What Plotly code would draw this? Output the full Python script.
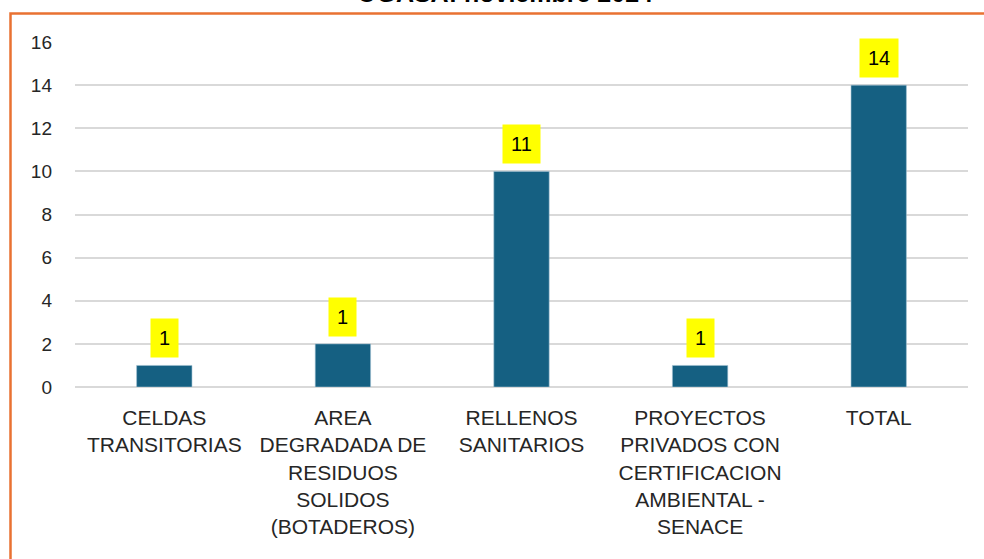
import plotly.graph_objects as go

categories = [
    "CELDAS<br>TRANSITORIAS",
    "AREA<br>DEGRADADA DE<br>RESIDUOS<br>SOLIDOS<br>(BOTADEROS)",
    "RELLENOS<br>SANITARIOS",
    "PROYECTOS<br>PRIVADOS CON<br>CERTIFICACION<br>AMBIENTAL -<br>SENACE",
    "TOTAL",
]
bar_values = [1, 2, 10, 1, 14]
label_values = ["1", "1", "11", "1", "14"]
y_ticks = [0, 2, 4, 6, 8, 10, 12, 14, 16]
title_text = "OGASA: noviembre 2024"

FONT = "Liberation Sans, Arial, sans-serif"
W, H = 984, 559
ML, MR, MT, MB = 75, 16, 42, 172
PW = W - ML - MR
PH = H - MT - MB

fig = go.Figure()
fig.add_trace(go.Bar(
    x=categories,
    y=bar_values,
    marker=dict(color="#156082", line=dict(color="#9FC0D2", width=0.6)),
    hoverinfo="skip",
))

for c, v, lab in zip(categories, bar_values, label_values):
    fig.add_annotation(
        x=c, y=v, xref="x", yref="y",
        text=lab, showarrow=False,
        yanchor="bottom", yshift=7,
        bgcolor="#FFFF00", borderpad=8,
        font=dict(family=FONT, size=20, color="#000000"),
    )

def px_x(px):
    return (px - ML) / PW

def px_y(py):
    return (H - MB - py) / PH

# orange outer frame (partly outside the visible page)
fig.add_shape(
    type="rect", xref="paper", yref="paper",
    x0=px_x(10.5), y0=px_y(13.5), x1=px_x(1100), y1=px_y(800),
    line=dict(color="#E97132", width=2.5), fillcolor="rgba(0,0,0,0)",
    layer="below",
)

# clipped title
fig.add_annotation(
    xref="paper", yref="paper",
    x=px_x(505), y=px_y(9),
    text="<b>" + title_text + "</b>", showarrow=False,
    xanchor="center", yanchor="bottom",
    font=dict(family=FONT, size=25, color="#000000"),
)

fig.update_layout(
    width=W, height=H,
    margin=dict(l=ML, r=MR, t=MT, b=MB, pad=0),
    paper_bgcolor="white",
    plot_bgcolor="white",
    showlegend=False,
    bargap=0.69,
    font=dict(family=FONT, color="#262626"),
)
fig.update_xaxes(
    showgrid=False, showline=False, ticks="",
    tickfont=dict(family=FONT, size=21, color="#262626"),
    tickangle=0, ticklabelstandoff=16,
)
fig.update_yaxes(
    range=[0, 16], tickvals=y_ticks, ticktext=[str(t) for t in y_ticks],
    showgrid=True, gridcolor="#D9D9D9", gridwidth=1.5,
    zeroline=True, zerolinecolor="#D9D9D9", zerolinewidth=1.5,
    showline=False, ticks="", ticklabelstandoff=22,
    tickfont=dict(family=FONT, size=19, color="#262626"),
)

fig.write_html(
    "out.html",
    config={"displayModeBar": False},
    post_script="document.body.style.margin='0';document.body.style.overflow='hidden';",
)
